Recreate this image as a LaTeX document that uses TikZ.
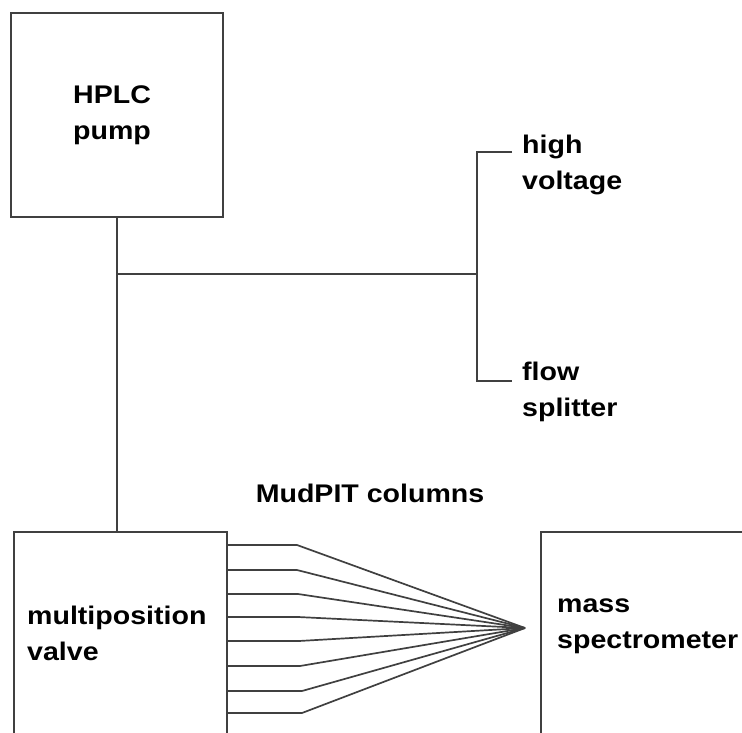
\documentclass[tikz,border=0pt]{standalone}
\usepackage{fontspec}
\setmainfont{Liberation Sans}[FakeStretch=1.12]
\usepackage{tikz}

\begin{document}
\begin{tikzpicture}[x=1pt,y=-1pt,
  box/.style={draw=black!75,line width=1.7pt,rectangle,inner sep=0pt},
  tag/.style={font=\fontsize{25.5}{36}\selectfont\bfseries,align=left,inner sep=0pt},
  pipe/.style={draw=black!75,line width=1.7pt}]
  \useasboundingbox (0,0) rectangle (742,733);
  \clip (0,0) rectangle (742,733);
  % boxes
  \node[box,minimum width=212pt,minimum height=204pt] (pump) at (117,115) {};
  \node[tag,anchor=west] (pumptext) at (73,115) {HPLC\\pump};
  \node[box,anchor=north west,minimum width=213pt,minimum height=260pt] (valve) at (13,531) {};
  \node[tag,anchor=west] (valvetext) at (27,633) {multiposition\\valve};
  \node[box,anchor=north west,minimum width=260pt,minimum height=260pt] (ms) at (540,531) {};
  \node[tag,anchor=west] (mstext) at (557,626) {mass\\spectrometer};
  % labels
  \node[tag,anchor=west] (hvtext) at (522,165) {high\\voltage};
  \node[tag,anchor=west] (fstext) at (522,392) {flow\\splitter};
  \node[tag] (cols) at (370,493) {MudPIT columns};
  % junctions
  \coordinate (j1) at (pump.south |- 0,274);
  \coordinate (j2) at (477,274);
  \coordinate (hv) at (512,152);
  \coordinate (fs) at (512,381);
  \coordinate (tip) at (525,628);
  \draw[pipe] (pump.south) -- (pump.south |- valve.north);
  \draw[pipe] (j1) -- (j2);
  \draw[pipe] (hv) -| (j2) |- (fs);
  % columns
  \foreach \y/\b in {545/297,570/297,594/298,617/298,641/299,666/300,691/302,713/302}
    \draw[pipe] (valve.north east |- 0,\y) -- (\b,\y) -- (tip);
\end{tikzpicture}
\end{document}
